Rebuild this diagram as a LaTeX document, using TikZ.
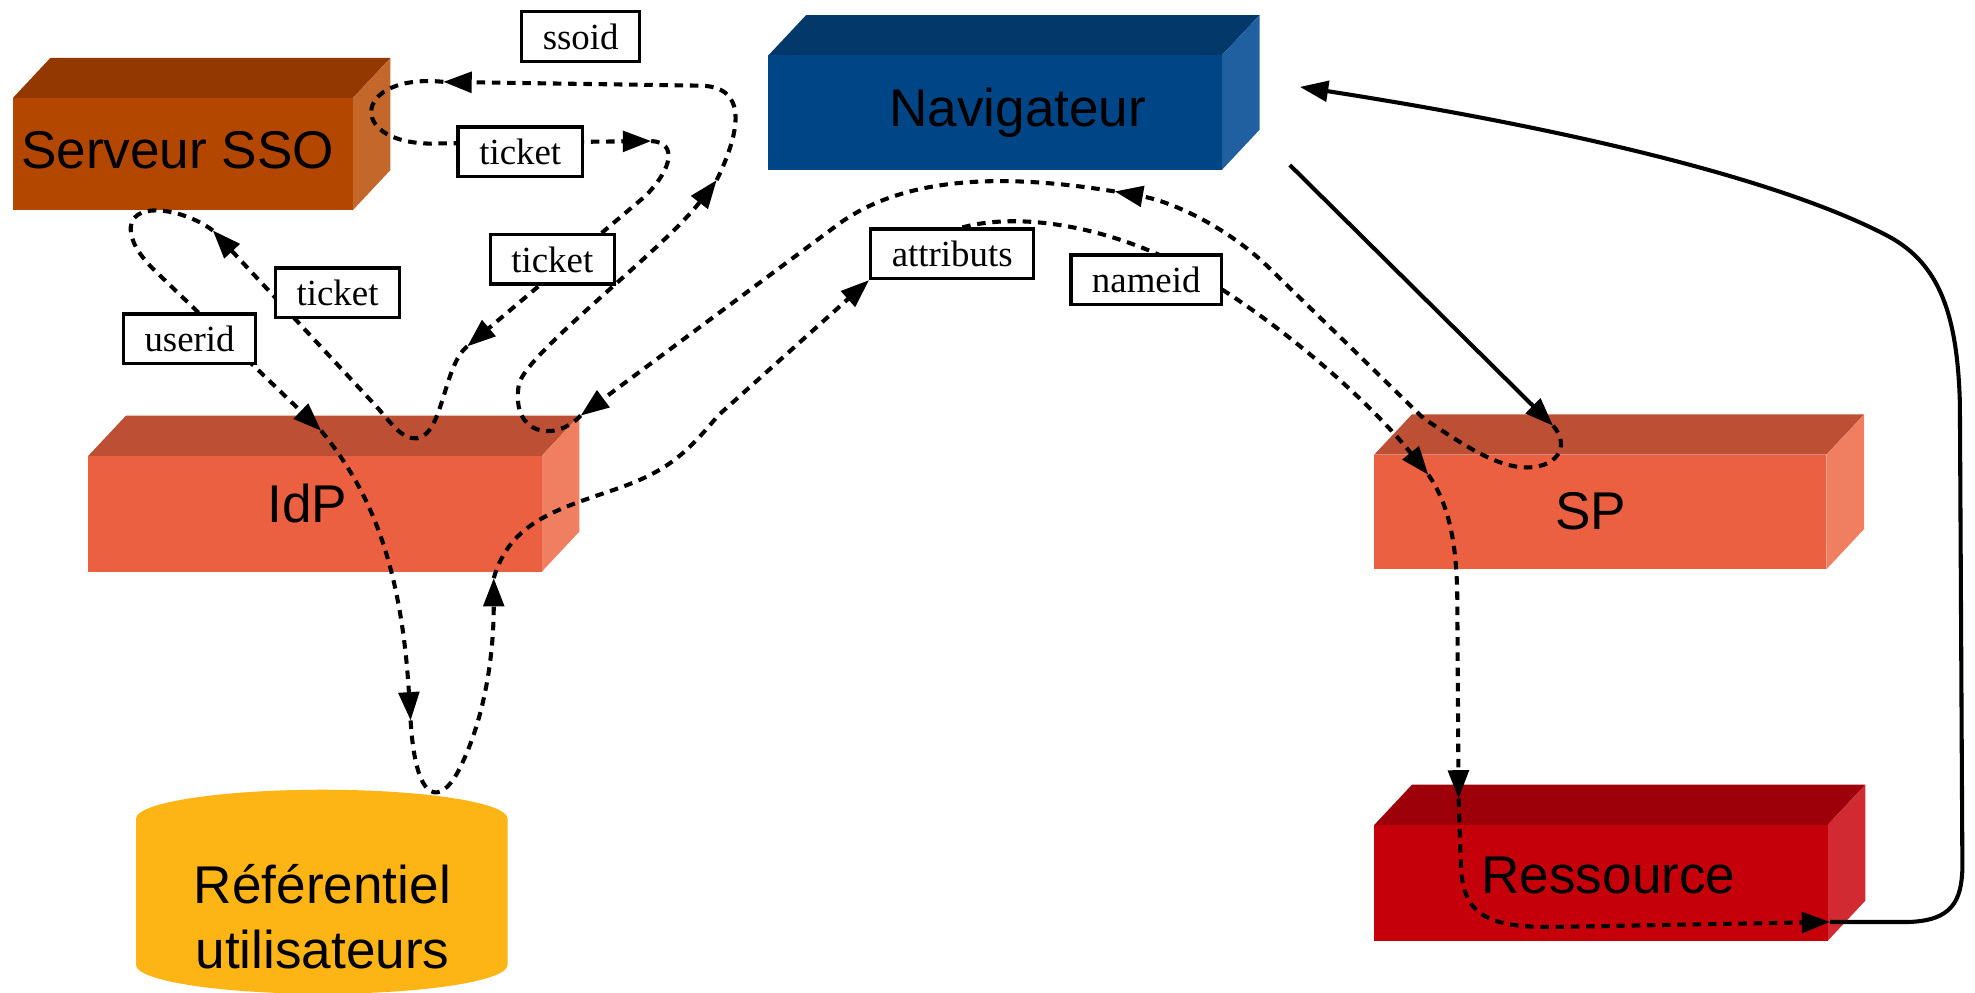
\documentclass[tikz,border=0pt]{standalone}
\usepackage{fontspec}
\setmainfont{Liberation Serif}
\setsansfont{Liberation Sans}
\usetikzlibrary{arrows.meta}

\definecolor{ssofront}{HTML}{B44700}
\definecolor{ssotop}{HTML}{933800}
\definecolor{ssoside}{HTML}{C4672A}
\definecolor{navfront}{HTML}{004586}
\definecolor{navtop}{HTML}{03386A}
\definecolor{navside}{HTML}{2060A0}
\definecolor{pfront}{HTML}{EA6040}
\definecolor{ptop}{HTML}{BD5034}
\definecolor{pside}{HTML}{F07F62}
\definecolor{resfront}{HTML}{C5000B}
\definecolor{restop}{HTML}{9E0009}
\definecolor{resside}{HTML}{D22A33}
\definecolor{refcol}{HTML}{FDB515}

% 3D block: front face (#1,#2)-(#3,#4); colours front #5, top #6, side #7
\newcommand{\drawblock}[7]{%
  \fill[#6] (#1,#2) -- ({#1+30},{#2-32}) -- ({#3+30},{#2-32}) -- (#3,#2) -- cycle;
  \fill[#7] (#3,#2) -- ({#3+30},{#2-32}) -- ({#3+30},{#4-32}) -- (#3,#4) -- cycle;
  \fill[#5] (#1,#2) rectangle (#3,#4);
}

\pgfdeclarelayer{labels}
\pgfsetlayers{main,labels}

\tikzset{
  bigtxt/.style={font=\sffamily\fontsize{15}{18}\selectfont, inner sep=0pt, anchor=base},
  lbl/.style={draw, line width=0.95pt, fill=white, font=\fontsize{10.4}{12}\selectfont,
    inner xsep=0.21cm, inner ysep=0pt, minimum height=0.49cm},
  flow/.style={line width=1.15pt, dash pattern=on 2.4pt off 1.9pt,
    -{Triangle[length=8pt,width=5.8pt]}},
  solidflow/.style={line width=1.15pt, -{Triangle[length=8pt,width=5.8pt]}}
}

\begin{document}
\begin{tikzpicture}[x=0.0125cm,y=-0.0125cm]
\useasboundingbox (0,0) rectangle (1568,788);
\fill[white] (0,0) rectangle (1568,788);

% blocks
\drawblock{10}{78}{280}{167}{ssofront}{ssotop}{ssoside}
\drawblock{610}{44}{970}{135}{navfront}{navtop}{navside}
\drawblock{70}{362}{430}{454}{pfront}{ptop}{pside}
\drawblock{1091}{361}{1450}{452}{pfront}{ptop}{pside}
\drawblock{1091}{655}{1451}{747}{resfront}{restop}{resside}

% user directory (cylinder)
\fill[refcol] (108,650) -- (108,766)
  .. controls (108,778.7) and (174.5,789) .. (256,789)
  .. controls (337.5,789) and (403,778.7) .. (403,766) -- (403,650)
  .. controls (403,637.3) and (337.5,627) .. (256,627)
  .. controls (174.5,627) and (108,637.3) .. (108,650) -- cycle;

% block titles
\node[bigtxt] (sso) at (141,133.6) {Serveur SSO};
\node[bigtxt] (nav) at (808,100.7) {Navigateur};
\node[bigtxt] (idp) at (244,415) {IdP};
\node[bigtxt] (sp) at (1263,420) {SP};
\node[bigtxt] (res) at (1277,709) {Ressource};
\node[bigtxt] (ref1) at (256,717) {Référentiel};
\node[bigtxt] (ref2) at (256,769) {utilisateurs};

% message labels
\begin{pgfonlayer}{labels}
\node[lbl] (ssoid) at (461,29) {ssoid};
\node[lbl] (tk1) at (413,120.5) {ticket};
\node[lbl] (tk2) at (438.5,206) {ticket};
\node[lbl] (tk3) at (268,232.5) {ticket};
\node[lbl] (uid) at (150.5,269) {userid};
\node[lbl] (attr) at (756,201.5) {attributs};
\node[lbl] (nid) at (910,222) {nameid};
\end{pgfonlayer}

% junction points of the message chain
\coordinate (j1) at (352,65);
\coordinate (j2) at (517,112);
\coordinate (j3) at (371,275);
\coordinate (j4) at (169,183);
\coordinate (j5) at (255,342);
\coordinate (j6) at (326,572);
\coordinate (j7) at (392,459);
\coordinate (jx) at (569,143);
\coordinate (idpcorner) at (461,330);
\coordinate (jnav) at (885,152);
\coordinate (navout) at (1024,131);
\coordinate (jsp) at (1233,338);
\coordinate (jspin) at (1134,377);
\coordinate (jres) at (1158,634);
\coordinate (resout) at (1453,732);
\coordinate (navin) at (1032,69);

% dashed message flows
\draw[flow] (jx) .. controls (590,100) and (592,68) .. (555,68) -- (j1);
\draw[flow] (j1) .. controls (282,58) and (274,112) .. (340,114) -- (j2);
\draw[flow] (j2) .. controls (538,113) and (534,134) .. (512,156) -- (j3);
\draw[flow] (j3) .. controls (352,290) and (352,345) .. (331,348)
  .. controls (320,349) and (312,338) .. (300,324) -- (j4);
\draw[flow] (j4) .. controls (145,165) and (100,158) .. (104,185)
  .. controls (106,196) and (112,203) .. (120,212) -- (j5);
\draw[flow] (j5) .. controls (290,385) and (318,440) .. (j6);
\draw[flow] (j6) .. controls (330,640) and (350,640) .. (365,610)
  .. controls (385,570) and (392,520) .. (j7);
\draw[flow] (j7) .. controls (405,415) and (440,405) .. (490,388)
  .. controls (530,374) and (545,360) .. (570,330) -- (attr.south west);
\draw[flow] ([xshift=0.1cm]attr.north) .. controls (810,168) and (880,180) .. (940,212)
  .. controls (1000,244) and (1080,310) .. (jspin);
\draw[flow] (jspin) .. controls (1150,400) and (1157,430) .. (1157,480) -- (jres);
\draw[flow] (jres) -- (1160,690) .. controls (1162,725) and (1180,736) .. (1230,736) -- (resout);
\draw[flow] (jsp) .. controls (1248,355) and (1235,373) .. (1208,371)
  .. controls (1185,369) and (1160,352) .. (1130,332) -- (1010,215)
  .. controls (975,180) and (930,160) .. (jnav);
\draw[flow] (jnav) .. controls (810,140) and (725,136) .. (667,177) -- (idpcorner);
\draw[flow] (idpcorner) .. controls (440,352) and (405,345) .. (412,305)
  .. controls (418,280) and (525,200) .. (jx);

% solid flows
\draw[solidflow] (navout) -- (jsp);
\draw[solidflow] (resout) -- (1515,732) .. controls (1550,731) and (1557,715) .. (1558,690)
  -- (1556,320) .. controls (1554,250) and (1540,210) .. (1500,188)
  .. controls (1400,135) and (1200,95) .. (navin);
\end{tikzpicture}
\end{document}
